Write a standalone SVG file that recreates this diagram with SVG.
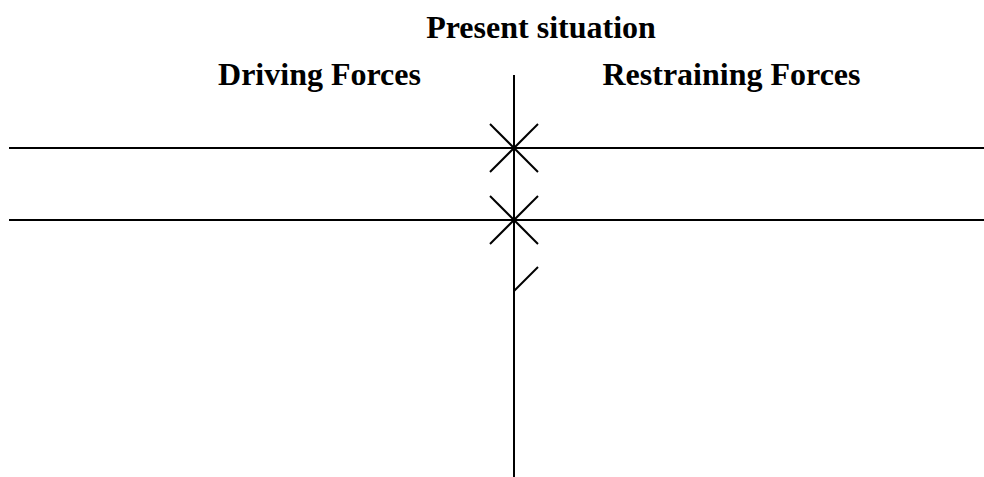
<svg xmlns="http://www.w3.org/2000/svg" width="984" height="477" viewBox="0 0 984 477">
<style>
  .t { font-family: "Liberation Serif", "Times New Roman", serif; font-weight: bold; font-size: 32px; fill: #000; text-anchor: middle; }
  .l { stroke: #000; stroke-width: 2; fill: none; }
</style>
<rect width="984" height="477" fill="#fff"/>
<g id="title"><text class="t" x="541" y="38">Present situation</text></g>
<g id="driving"><text class="t" x="319.5" y="85">Driving Forces</text></g>
<g id="restraining"><text class="t" x="731.5" y="85">Restraining Forces</text></g>
<g id="connectors">
  <line class="l" x1="514" y1="75" x2="514" y2="477"/>
  <line class="l" x1="9" y1="148" x2="984" y2="148"/>
  <line class="l" x1="9" y1="220" x2="984" y2="220"/>
  <line class="l" x1="490" y1="124" x2="538" y2="172"/>
  <line class="l" x1="490" y1="172" x2="538" y2="124"/>
  <line class="l" x1="490" y1="196" x2="538" y2="244"/>
  <line class="l" x1="490" y1="244" x2="538" y2="196"/>
  <line class="l" x1="514" y1="291" x2="538" y2="267"/>
</g>
</svg>
